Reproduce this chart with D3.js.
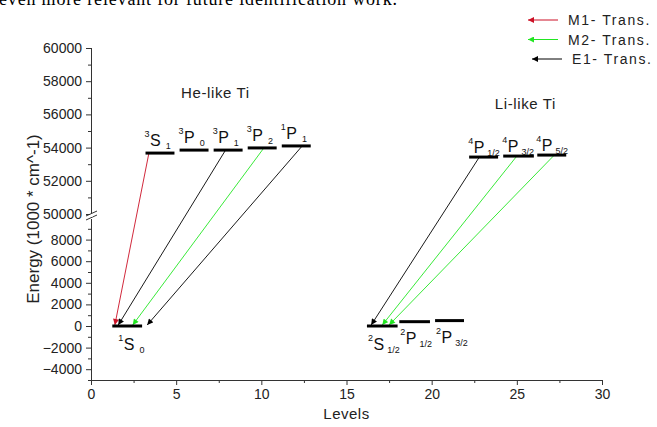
<!DOCTYPE html>
<html><head><meta charset="utf-8">
<script src="https://cdn.jsdelivr.net/npm/d3@7"></script>
<style>
html,body{margin:0;padding:0;background:#fff;}
svg{display:block;font-family:Arial,"Liberation Sans",sans-serif;}
</style></head>
<body>
<svg id="c" width="657" height="427"></svg>
<script>
// ---------- data ----------
const levelMult   = ["3","3","3","3","1","1","4","4","4","2","2","2"];
const levelLetter = ["S","P","P","P","P","S","P","P","P","S","P","P"];
const levelJ      = ["1","0","1","2","1","0","1/2","3/2","5/2","1/2","1/2","3/2"];
const levelStart  = [3.2, 5.2, 7.2, 9.2, 11.2, 1.25, 22.2, 24.2, 26.2, 16.2, 18.1, 20.2];
const levelEnd    = [4.9, 6.9, 8.9, 10.9, 12.9, 3.0, 23.9, 26.0, 27.9, 18.0, 19.9, 21.9];
const levelEnergy = [53670, 53850, 53850, 53980, 54100, 0, 53430, 53490, 53550, 0, 400, 500];

const transType  = ["M1","E1","M2","E1","E1","M2","M2"];
const transFrom  = [0, 2, 3, 4, 6, 7, 8];          // index of upper level
const transFromX = [3.4, 7.9, 10.15, 12.4, 22.8, 25.0, 27.2];
const transTo    = [5, 5, 5, 5, 9, 9, 9];          // index of lower level
const transToX   = [1.4, 1.6, 2.45, 3.3, 16.45, 17.1, 17.5];

const legendTypes  = ["M1","M2","E1"];
const legendLabels = ["M1- Trans.","M2- Trans.","E1- Trans."];

const xTicks = [0,5,10,15,20,25,30];
const xMinor = [2.5,7.5,12.5,17.5,22.5,27.5];
const yTicksUp  = [50000,52000,54000,56000,58000,60000];
const yMinorUp  = [51000,53000,55000,57000,59000];
const yTicksLow = [-4000,-2000,0,2000,4000,6000,8000];
const yMinorLow = [-5000,-3000,-1000,1000,3000,5000,7000,9000];

const groupTitles = ["He-like Ti","Li-like Ti"];
const groupTitleX = [7.3, 25.5];
const groupTitleE = [57000, 56300];

// ---------- scales ----------
const color = {M1:"#cc1126", M2:"#22e622", E1:"#000000"};
const x = d3.scaleLinear().domain([0,30]).range([91,602]);
const yUp = d3.scaleLinear().domain([50000,60000]).range([214,48]);
const yLow = d3.scaleLinear().domain([-5000,10000]).range([380,218]);
const y = e => e >= 30000 ? yUp(e) : yLow(e);

const svg = d3.select("#c");

// clipped text line at the top
svg.append("text").attr("x",-1).attr("y",5)
  .attr("font-family","'Liberation Serif','Times New Roman',serif")
  .attr("font-size",18).attr("fill","#000")
  .attr("textLength",398).attr("lengthAdjust","spacing")
  .text("even more relevant for future identification work.");

// markers
const defs = svg.append("defs");
Object.keys(color).forEach(k=>{
  defs.append("marker").attr("id","arr"+k)
    .attr("viewBox","0 0 10 10").attr("refX",10).attr("refY",5)
    .attr("markerWidth",7).attr("markerHeight",6)
    .attr("markerUnits","userSpaceOnUse")
    .attr("orient","auto")
    .append("path").attr("d","M0,0L10,5L0,10Z").attr("fill",color[k]);
});

// ---------- axes ----------
const axCol = "#333";
function styleAxis(g){
  g.select(".domain").remove();
  g.selectAll("line").attr("stroke",axCol);
  g.selectAll("text").attr("font-size",14).attr("fill","#222")
   .attr("font-family","Arial,'Liberation Sans',sans-serif");
}
const gx = svg.append("g").attr("transform","translate(0,380)")
  .call(d3.axisBottom(x).tickValues(xTicks).tickSize(5).tickPadding(4).tickFormat(d3.format("d")));
styleAxis(gx);
const gxm = svg.append("g").attr("transform","translate(0,380)")
  .call(d3.axisBottom(x).tickValues(xMinor).tickSize(3).tickFormat(""));
styleAxis(gxm);

const gyu = svg.append("g").attr("transform","translate(91,0)")
  .call(d3.axisLeft(yUp).tickValues(yTicksUp).tickSize(5).tickPadding(4).tickFormat(d3.format("d")));
styleAxis(gyu);
const gyum = svg.append("g").attr("transform","translate(91,0)")
  .call(d3.axisLeft(yUp).tickValues(yMinorUp).tickSize(3).tickFormat(""));
styleAxis(gyum);
const gyl = svg.append("g").attr("transform","translate(91,0)")
  .call(d3.axisLeft(yLow).tickValues(yTicksLow).tickSize(5).tickPadding(4).tickFormat(d3.format("d")));
styleAxis(gyl);
const gylm = svg.append("g").attr("transform","translate(91,0)")
  .call(d3.axisLeft(yLow).tickValues(yMinorLow).tickSize(3).tickFormat(""));
styleAxis(gylm);

// axis lines with break
svg.append("line").attr("x1",x(0)).attr("x2",x(30)).attr("y1",380.5).attr("y2",380.5).attr("stroke",axCol);
svg.append("line").attr("x1",91.5).attr("x2",91.5).attr("y1",yUp(60000)).attr("y2",yUp(50000)-1).attr("stroke",axCol);
svg.append("line").attr("x1",91.5).attr("x2",91.5).attr("y1",yLow(10000)+1).attr("y2",380.5).attr("stroke",axCol);
[0,4].forEach(o=>{
  svg.append("line").attr("x1",86).attr("x2",97).attr("y1",yUp(50000)+2+o).attr("y2",yUp(50000)-3+o)
    .attr("stroke",axCol).attr("stroke-width",1);
});
svg.append("rect").attr("x",90).attr("y",yUp(50000)+0.5).attr("width",3).attr("height",2).attr("fill","#fff");

// axis titles
svg.append("text").attr("x",x(15)).attr("y",419).attr("text-anchor","middle")
  .attr("font-size",15).attr("fill","#222").attr("letter-spacing",0.5).text("Levels");
svg.append("text").attr("transform","translate(39,219) rotate(-90)").attr("text-anchor","middle")
  .attr("font-size",17).attr("fill","#222").text("Energy (1000 * cm^-1)");

// ---------- group titles ----------
groupTitles.forEach((t,i)=>{
  svg.append("text").attr("x",x(groupTitleX[i])).attr("y",y(groupTitleE[i]))
    .attr("text-anchor","middle").attr("font-size",15).attr("fill","#222")
    .attr("letter-spacing",0.6).text(t);
});

// ---------- transitions ----------
transType.forEach((t,i)=>{
  svg.append("line")
    .attr("x1",x(transFromX[i])).attr("y1",y(levelEnergy[transFrom[i]]))
    .attr("x2",x(transToX[i])).attr("y2",y(levelEnergy[transTo[i]])-1)
    .attr("stroke",color[t]).attr("stroke-width",0.9)
    .attr("marker-end","url(#arr"+t+")");
});

// ---------- levels ----------
levelEnergy.forEach((e,i)=>{
  svg.append("line").attr("x1",x(levelStart[i])).attr("x2",x(levelEnd[i]))
    .attr("y1",y(e)).attr("y2",y(e)).attr("stroke","#000").attr("stroke-width",3);
  const upper = e > 30000;
  const isHe = levelJ[i].length === 1;
  const bx = x(levelStart[i]) + (upper ? -1 : (isHe ? 6 : 1));
  const by = y(e) + (upper ? (isHe ? -7 : -4) : (levelLetter[i]==="S" ? 24 : 22));
  const tx = svg.append("text").attr("x",bx).attr("y",by).attr("fill","#111");
  tx.append("tspan").attr("font-size",9).attr("dy",-9).text(levelMult[i]);
  tx.append("tspan").attr("font-size",16).attr("dy",9).attr("dx",0.5).text(levelLetter[i]);
  tx.append("tspan").attr("font-size",9).attr("dy",3).attr("dx",isHe?5:3).text(levelJ[i]);
});

// ---------- legend ----------
legendTypes.forEach((t,i)=>{
  const ly = 20 + i*19.5;
  const off = t==="E1" ? 4 : 0;
  svg.append("line").attr("x1",558+off).attr("x2",528+off).attr("y1",ly).attr("y2",ly)
    .attr("stroke",color[t]).attr("stroke-width",1)
    .attr("marker-end","url(#arr"+t+")");
  svg.append("text").attr("x",568+off).attr("y",ly+5).attr("font-size",14)
    .attr("letter-spacing",1.6).attr("fill","#222").text(legendLabels[i]);
});
</script>
</body></html>
